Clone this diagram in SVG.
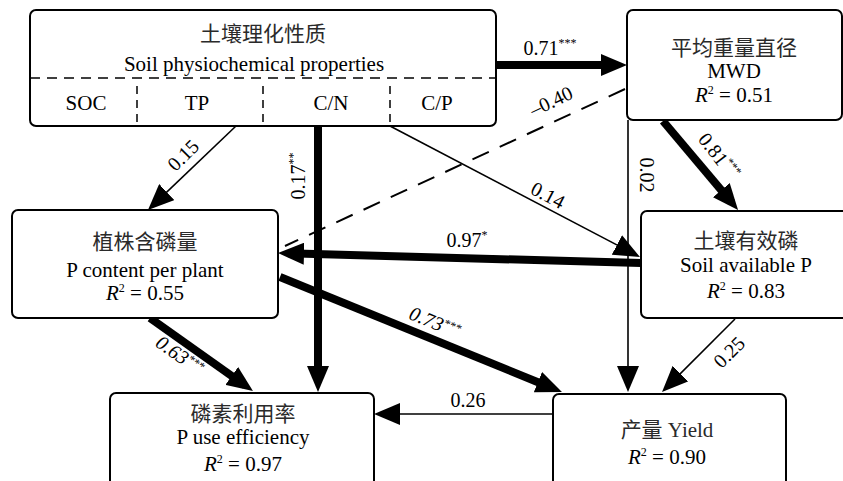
<svg xmlns="http://www.w3.org/2000/svg" width="843" height="481" viewBox="0 0 843 481" font-family="'Liberation Serif', Tinos, 'DejaVu Serif', serif">
<defs>
<style>
.box{fill:#fff;stroke:#000;stroke-width:2}
.t{font-family:'Liberation Serif',Tinos,'DejaVu Serif',serif;font-size:21px;fill:#000;text-anchor:middle}
.zh{font-family:'Liberation Serif','DejaVu Serif','Noto Sans CJK SC',sans-serif;font-size:21px;fill:#2a2a2a;text-anchor:middle}
.lab{font-family:'Liberation Serif',Tinos,'DejaVu Serif',serif;font-size:20px;fill:#000;text-anchor:middle}
.it{font-style:italic}
.sup{font-size:12px}
.thick{stroke:#000;stroke-width:8;fill:none;marker-end:url(#ah)}
.thin{stroke:#000;stroke-width:1.6;fill:none;marker-end:url(#ah)}
.dash{stroke:#000;stroke-width:2;fill:none;stroke-dasharray:18 12}
.sep{stroke:#000;stroke-width:1.5;fill:none;stroke-dasharray:10 7}
.vsep{stroke:#000;stroke-width:1.5;fill:none;stroke-dasharray:8 6}
</style>
<marker id="ah" markerUnits="userSpaceOnUse" markerWidth="26" markerHeight="22" refX="16" refY="11" orient="auto">
<path d="M0,0 L26,11 L0,22 Z" fill="#000"/>
</marker>
</defs>

<g id="connectors">
<line class="thick" x1="496" y1="65" x2="617" y2="65"/>
<line class="thick" x1="663" y1="121" x2="731.6" y2="202.4"/>
<line class="thin" x1="628" y1="120" x2="628" y2="382"/>
<line class="thin" x1="390" y1="126" x2="631.1" y2="252.4"/>
<line class="thin" x1="236" y1="126" x2="155.2" y2="203.1"/>
<line class="thick" x1="318" y1="126" x2="318" y2="382"/>
<line class="thick" x1="641" y1="263" x2="288" y2="253.3"/>
<line class="dash" x1="625" y1="89" x2="285" y2="246"/>
<line class="thick" x1="280" y1="277" x2="552.7" y2="388.2"/>
<line class="thick" x1="150" y1="318" x2="244.8" y2="385.2"/>
<line class="thin" x1="553" y1="414" x2="384" y2="414"/>
<line class="thin" x1="735" y1="319" x2="669.1" y2="384.9"/>

<text class="lab" x="550" y="55">0.71<tspan class="sup" dy="-8">***</tspan></text>
<text class="lab" transform="translate(719,156) rotate(52)" x="0" y="7">0.81<tspan class="sup" dy="-8">***</tspan></text>
<text class="lab" transform="translate(647,175) rotate(90)" x="0" y="7">0.02</text>
<text class="lab" transform="translate(548,195) rotate(27.6)" x="0" y="7">0.14</text>
<text class="lab" transform="translate(183,155) rotate(-45)" x="0" y="7">0.15</text>
<text class="lab" transform="translate(298,176) rotate(-90)" x="0" y="7">0.17<tspan class="sup" dy="-8">**</tspan></text>
<text class="lab" transform="translate(551,101) rotate(-25)" x="0" y="7">–0.40</text>
<text class="lab" x="467" y="247">0.97<tspan class="sup" dy="-8">*</tspan></text>
<text class="lab it" transform="translate(435,322) rotate(22)" x="0" y="7">0.73<tspan class="sup" dy="-6">***</tspan></text>
<text class="lab it" transform="translate(180,355) rotate(35)" x="0" y="7">0.63<tspan class="sup" dy="-6">***</tspan></text>
<text class="lab" x="468" y="407">0.26</text>
<text class="lab" transform="translate(729,352) rotate(-45)" x="0" y="7">0.25</text>
</g>

<g id="soil-props">
<rect class="box" x="30" y="10" width="466" height="116" rx="6"/>
<line class="sep" x1="30" y1="78" x2="496" y2="78"/>
<line class="vsep" x1="137" y1="86" x2="137" y2="126"/>
<line class="vsep" x1="263" y1="86" x2="263" y2="126"/>
<line class="vsep" x1="390" y1="86" x2="390" y2="126"/>
<text class="zh" x="263" y="41">土壤理化性质</text>
<text class="t" x="254" y="71">Soil physiochemical properties</text>
<text class="t" x="86" y="110">SOC</text>
<text class="t" x="197" y="110">TP</text>
<text class="t" x="331" y="110">C/N</text>
<text class="t" x="437" y="110">C/P</text>
</g>

<g id="mwd">
<rect class="box" x="627" y="10" width="215" height="110" rx="6"/>
<text class="zh" x="734" y="55">平均重量直径</text>
<text class="t" x="734" y="78">MWD</text>
<text class="t" x="734" y="102"><tspan class="it">R</tspan><tspan class="sup" dy="-8">2</tspan><tspan dy="8"> = 0.51</tspan></text>
</g>

<g id="p-content">
<rect class="box" x="12" y="210" width="266" height="108" rx="6"/>
<text class="zh" x="145" y="249">植株含磷量</text>
<text class="t" x="145" y="277">P content per plant</text>
<text class="t" x="145" y="300"><tspan class="it">R</tspan><tspan class="sup" dy="-8">2</tspan><tspan dy="8"> = 0.55</tspan></text>
</g>

<g id="soil-ap">
<rect class="box" x="641" y="211" width="212" height="107" rx="6"/>
<text class="zh" x="746" y="248">土壤有效磷</text>
<text class="t" x="746" y="272">Soil available P</text>
<text class="t" x="746" y="298"><tspan class="it">R</tspan><tspan class="sup" dy="-8">2</tspan><tspan dy="8"> = 0.83</tspan></text>
</g>

<g id="pue">
<rect class="box" x="110" y="393" width="264" height="100" rx="6"/>
<text class="zh" x="243" y="421">磷素利用率</text>
<text class="t" x="243" y="444">P use efficiency</text>
<text class="t" x="243" y="471"><tspan class="it">R</tspan><tspan class="sup" dy="-8">2</tspan><tspan dy="8"> = 0.97</tspan></text>
</g>

<g id="yield">
<rect class="box" x="553" y="394" width="233" height="100" rx="6"/>
<text class="zh" x="667" y="437">产量 Yield</text>
<text class="t" x="667" y="464"><tspan class="it">R</tspan><tspan class="sup" dy="-8">2</tspan><tspan dy="8"> = 0.90</tspan></text>
</g>
</svg>
